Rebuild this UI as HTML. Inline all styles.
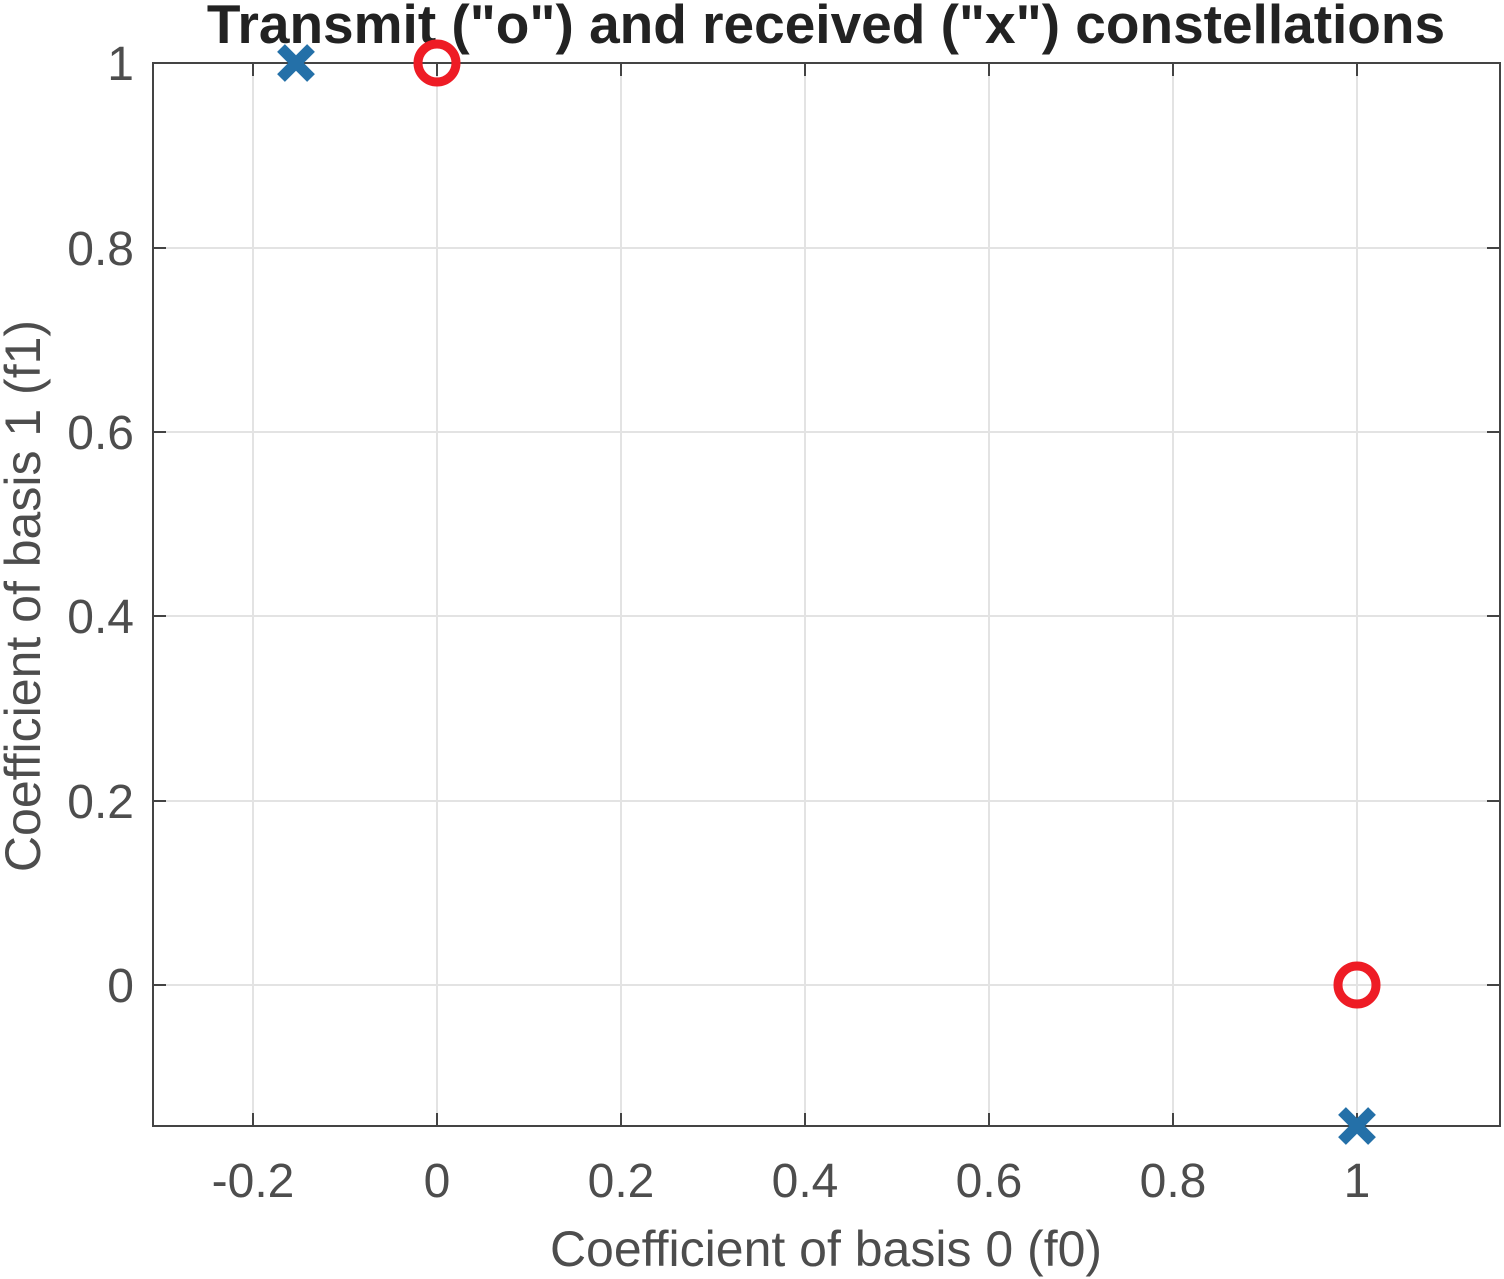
<!DOCTYPE html>
<html><head><style>
body{margin:0;background:#fff}
svg{display:block}
text{font-family:"Liberation Sans",sans-serif}
</style></head><body>
<svg width="1504" height="1279" viewBox="0 0 1504 1279">
<rect width="1504" height="1279" fill="#fff"/>
<g stroke="#e3e3e3" stroke-width="2">
<line x1="253" y1="63" x2="253" y2="1126"/>
<line x1="437" y1="63" x2="437" y2="1126"/>
<line x1="621" y1="63" x2="621" y2="1126"/>
<line x1="805" y1="63" x2="805" y2="1126"/>
<line x1="989" y1="63" x2="989" y2="1126"/>
<line x1="1173" y1="63" x2="1173" y2="1126"/>
<line x1="1357" y1="63" x2="1357" y2="1126"/>
<line x1="153" y1="248" x2="1500" y2="248"/>
<line x1="153" y1="432" x2="1500" y2="432"/>
<line x1="153" y1="616" x2="1500" y2="616"/>
<line x1="153" y1="801" x2="1500" y2="801"/>
<line x1="153" y1="985" x2="1500" y2="985"/>
</g>
<rect x="153" y="63" width="1347" height="1063" fill="none" stroke="#444" stroke-width="2"/>
<g stroke="#444" stroke-width="2">
<path d="M253 1126v-13M437 1126v-13M621 1126v-13M805 1126v-13M989 1126v-13M1173 1126v-13M1357 1126v-13"/>
<path d="M253 63v13M437 63v13M621 63v13M805 63v13M989 63v13M1173 63v13M1357 63v13"/>
<path d="M153 63h13M153 248h13M153 432h13M153 616h13M153 801h13M153 985h13"/>
<path d="M1500 63h-13M1500 248h-13M1500 432h-13M1500 616h-13M1500 801h-13M1500 985h-13"/>
</g>
<g font-size="48" fill="#4d4d4d" text-anchor="middle">
<text x="253" y="1197">-0.2</text>
<text x="437" y="1197">0</text>
<text x="621" y="1197">0.2</text>
<text x="805" y="1197">0.4</text>
<text x="989" y="1197">0.6</text>
<text x="1173" y="1197">0.8</text>
<text x="1357" y="1197">1</text>
</g>
<g font-size="48" fill="#4d4d4d" text-anchor="end">
<text x="134" y="80">1</text>
<text x="134" y="265">0.8</text>
<text x="134" y="449">0.6</text>
<text x="134" y="633">0.4</text>
<text x="134" y="818">0.2</text>
<text x="134" y="1002">0</text>
</g>
<text x="826" y="1266" font-size="50" fill="#4d4d4d" text-anchor="middle">Coefficient of basis 0 (f0)</text>
<text transform="translate(40,596) rotate(-90)" font-size="50" fill="#4d4d4d" text-anchor="middle">Coefficient of basis 1 (f1)</text>
<text x="826" y="43" font-size="55" font-weight="bold" fill="#222" text-anchor="middle">Transmit ("o") and received ("x") constellations</text>
<g fill="none" stroke="#ee1c25" stroke-width="9">
<circle cx="437" cy="63" r="19"/>
<circle cx="1357" cy="985" r="19"/>
</g>
<g stroke="#2470a8" stroke-width="11" stroke-linecap="butt">
<path d="M281 48l30 30M311 48l-30 30"/>
<path d="M1342 1111l30 30M1372 1111l-30 30"/>
</g>
</svg>
</body></html>
